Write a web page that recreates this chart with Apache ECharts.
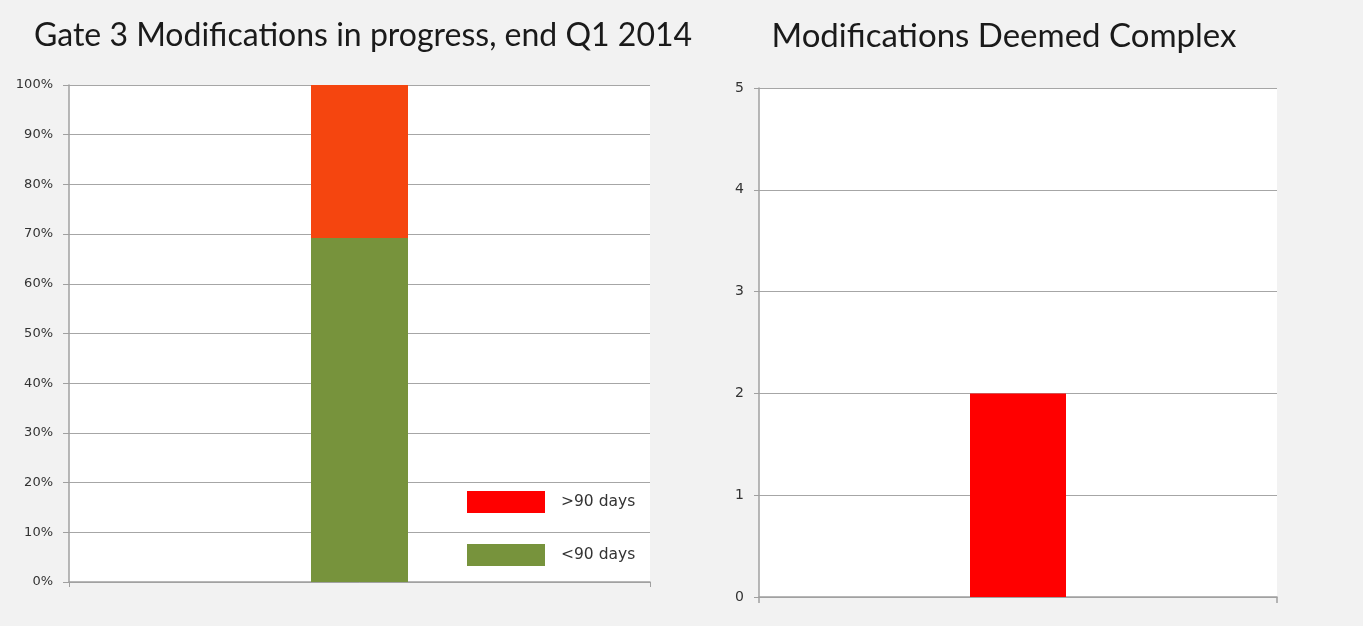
<!DOCTYPE html>
<html><head><meta charset="utf-8">
<script src="https://cdn.jsdelivr.net/npm/echarts@6/dist/echarts.min.js"></script>
<style>html,body{margin:0;padding:0;background:#f2f2f2;}#c{width:1363px;height:626px;}</style>
</head><body><div id="c"></div>
<script>
const leftCategories = ['Q1 2014'];
const under90 = [69.2];
const over90 = [30.8];
const leftTicks = ['0%','10%','20%','30%','40%','50%','60%','70%','80%','90%','100%'];
const rightCategories = ['Complex'];
const complexCounts = [2];

const chart = echarts.init(document.getElementById('c'));
const axisGray = '#a0a0a0';
const gridGray = '#a6a6a6';
chart.setOption({
  backgroundColor: '#f2f2f2',
  animation: false,
  title: [
    {text: 'Gate 3 Modifications in progress, end Q1 2014', left: 358, top: 15, textAlign: 'center',
     textStyle: {fontFamily: 'Lato', fontWeight: 'normal', fontSize: 32, color: '#1a1a1a'}},
    {text: 'Modifications Deemed Complex', left: 999, top: 15, textAlign: 'center',
     textStyle: {fontFamily: 'Lato', fontWeight: 'normal', fontSize: 33, color: '#1a1a1a'}}
  ],
  legend: {
    orient: 'vertical', left: 462, top: 486, itemWidth: 78, itemHeight: 22, itemGap: 31,
    textStyle: {fontFamily: 'DejaVu Sans', fontSize: 15.5, color: '#333', padding: [0,0,0,11]},
    data: [
      {name: '>90 days', icon: 'rect', itemStyle: {color: '#ff0000'}},
      {name: '<90 days', icon: 'rect', itemStyle: {color: '#77933c'}}
    ]
  },
  grid: [
    {left: 69, right: 713, top: 85, bottom: 44, show: true, backgroundColor: '#ffffff', borderWidth: 0},
    {left: 759, right: 86, top: 88, bottom: 29, show: true, backgroundColor: '#ffffff', borderWidth: 0}
  ],
  xAxis: [
    {type: 'category', gridIndex: 0, data: leftCategories,
     axisLine: {lineStyle: {color: axisGray, width: 1.5}},
     axisTick: {show: true, length: 5, lineStyle: {color: axisGray}}, axisLabel: {show: false}},
    {type: 'category', gridIndex: 1, data: rightCategories,
     axisLine: {lineStyle: {color: axisGray, width: 1.5}},
     axisTick: {show: true, length: 6, lineStyle: {color: axisGray, width: 1.5}}, axisLabel: {show: false}}
  ],
  yAxis: [
    {type: 'value', gridIndex: 0, min: 0, max: 100, interval: 10,
     axisLine: {show: true, lineStyle: {color: axisGray, width: 1.5}},
     axisTick: {show: true, length: 6, lineStyle: {color: axisGray}},
     splitLine: {lineStyle: {color: gridGray, width: 1}},
     axisLabel: {formatter: function (v) { return leftTicks[Math.round(v / 10)]; }, margin: 16,
       fontFamily: 'DejaVu Sans', fontSize: 13, color: '#333'}},
    {type: 'value', gridIndex: 1, min: 0, max: 5, interval: 1,
     axisLine: {show: true, lineStyle: {color: axisGray, width: 1.5}},
     axisTick: {show: true, length: 5, lineStyle: {color: axisGray}},
     splitLine: {lineStyle: {color: gridGray, width: 1}},
     axisLabel: {margin: 15, fontFamily: 'DejaVu Sans', fontSize: 14, color: '#333'}}
  ],
  series: [
    {name: '<90 days', type: 'bar', stack: 'g', xAxisIndex: 0, yAxisIndex: 0, data: under90,
     barWidth: 97, itemStyle: {color: '#77933c'}},
    {name: '>90 days', type: 'bar', stack: 'g', xAxisIndex: 0, yAxisIndex: 0, data: over90,
     barWidth: 97, itemStyle: {color: '#f5450f'}},
    {name: 'Complex', type: 'bar', xAxisIndex: 1, yAxisIndex: 1, data: complexCounts,
     barWidth: 96, itemStyle: {color: '#ff0000'}}
  ]
});
</script></body></html>
